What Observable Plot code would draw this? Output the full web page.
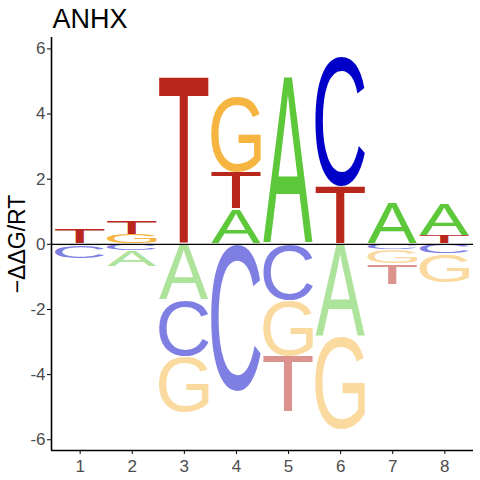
<!DOCTYPE html>
<html><head><meta charset="utf-8">
<script src="https://cdn.jsdelivr.net/npm/d3@7"></script>
<script src="https://cdn.jsdelivr.net/npm/@observablehq/plot@0.6"></script>
<style>body{margin:0;background:#fff;}</style>
</head><body><div id="chart"></div>
<script>
const title = "ANHX";
const yLabel = "−ΔΔG/RT";
const positions = [1, 2, 3, 4, 5, 6, 7, 8];
const letters = ["A", "C", "G", "T"];
const valuesA = [-0.07, -0.49, -1.72, 1.07, 5.15, -2.86, 1.27, 0.98];
const valuesC = [-0.37, -0.22, -1.72, -4.53, -1.72, 3.99, -0.18, -0.31];
const valuesG = [0, 0.29, -1.72, 2.33, -1.72, -2.86, -0.42, -0.88];
const valuesT = [0.45, 0.43, 5.15, 1.13, -1.72, 1.78, -0.64, 0.25];
const yTicks = [-6, -4, -2, 0, 2, 4, 6];
const letterColors = ["#5DC83A", "#0000C8", "#F5B540", "#B9261C"];

const series = [valuesA, valuesC, valuesG, valuesT];
const xDomain = [0.45, 8.55];
const yDomain = [-6.33, 6.35];
const colWidth = 0.95;
const glyphFont = "Liberation Sans";
const glyphWeight = "400";

// stacked rows
const rows = [];
positions.forEach((p, i) => {
  const items = letters.map((l, k) => ({letter: l, value: series[k][i], color: letterColors[k]}))
    .filter(d => d.value !== 0);
  const order = (a, b) => Math.abs(a.value) - Math.abs(b.value) || a.letter.localeCompare(b.letter);
  let up = 0, down = 0;
  items.filter(d => d.value > 0).sort(order).forEach(d => {
    rows.push({position: p, ...d, y1: up, y2: up + d.value, neg: false}); up += d.value;
  });
  items.filter(d => d.value < 0).sort(order).forEach(d => {
    rows.push({position: p, ...d, y1: down, y2: down + d.value, neg: true}); down += d.value;
  });
});

// glyph ink metrics
const ctx = document.createElement("canvas").getContext("2d");
ctx.font = `${glyphWeight} 200px '${glyphFont}'`;
ctx.textAlign = "left";
ctx.textBaseline = "alphabetic";
const metrics = {};
for (const l of letters) {
  const m = ctx.measureText(l);
  metrics[l] = {l: m.actualBoundingBoxLeft, r: m.actualBoundingBoxRight, a: m.actualBoundingBoxAscent, d: m.actualBoundingBoxDescent};
}

function logoMark(index, scales, values, dimensions, context) {
  const doc = (context && context.document) || document;
  const ns = "http://www.w3.org/2000/svg";
  const g = doc.createElementNS(ns, "g");
  g.setAttribute("text-anchor", "start");
  for (const r of rows) {
    const xa = scales.x(r.position - colWidth / 2), xb = scales.x(r.position + colWidth / 2);
    const ya = scales.y(Math.max(r.y1, r.y2)) + 0.5, yb = scales.y(Math.min(r.y1, r.y2)) - 0.5;
    if (yb - ya < 0.3) continue;
    const m = metrics[r.letter];
    const w = m.l + m.r, h = m.a + m.d;
    const sx = (xb - xa) / w, sy = (yb - ya) / h;
    const t = doc.createElementNS(ns, "text");
    t.setAttribute("x", 0); t.setAttribute("y", 0);
    t.setAttribute("text-anchor", "start");
    t.setAttribute("font-family", glyphFont);
    t.setAttribute("font-weight", glyphWeight);
    t.setAttribute("font-size", 200);
    t.setAttribute("fill", r.color);
    if (r.neg) t.setAttribute("fill-opacity", 0.5);
    t.setAttribute("transform", `translate(${xa + m.l * sx},${ya + m.a * sy}) scale(${sx},${sy})`);
    t.textContent = r.letter;
    g.appendChild(t);
  }
  return g;
}

const chart = Plot.plot({
  width: 480,
  height: 480,
  marginLeft: 51,
  marginRight: 7,
  marginTop: 37,
  marginBottom: 30,
  style: {fontFamily: "'Liberation Sans', Arial, sans-serif", background: "white", color: "black"},
  x: {domain: xDomain, axis: null},
  y: {domain: yDomain, axis: null},
  marks: [
    logoMark,
    Plot.ruleY([0], {stroke: "black", strokeWidth: 1.1}),
    Plot.ruleX([xDomain[0]], {stroke: "black", strokeWidth: 1.6}),
    Plot.ruleY([yDomain[0]], {stroke: "black", strokeWidth: 1.6}),
    Plot.axisY({ticks: yTicks, tickFormat: d => String(d), tickSize: 4, tickPadding: 2, fontSize: 17, fill: "#4D4D4D", stroke: "black", label: null}),
    Plot.axisX({ticks: positions, tickFormat: d => String(d), tickSize: 4, tickPadding: 5, fontSize: 17, fill: "#4D4D4D", stroke: "black", label: null}),
    Plot.text([title], {frameAnchor: "top-left", dx: 1, dy: -10, fontSize: 27, textAnchor: "start", lineAnchor: "bottom", fill: "black"}),
    Plot.text([yLabel], {frameAnchor: "left", dx: -34, rotate: -90, fontSize: 23, textAnchor: "middle", fill: "black"})
  ]
});
document.getElementById("chart").appendChild(chart);
</script>
</body></html>
